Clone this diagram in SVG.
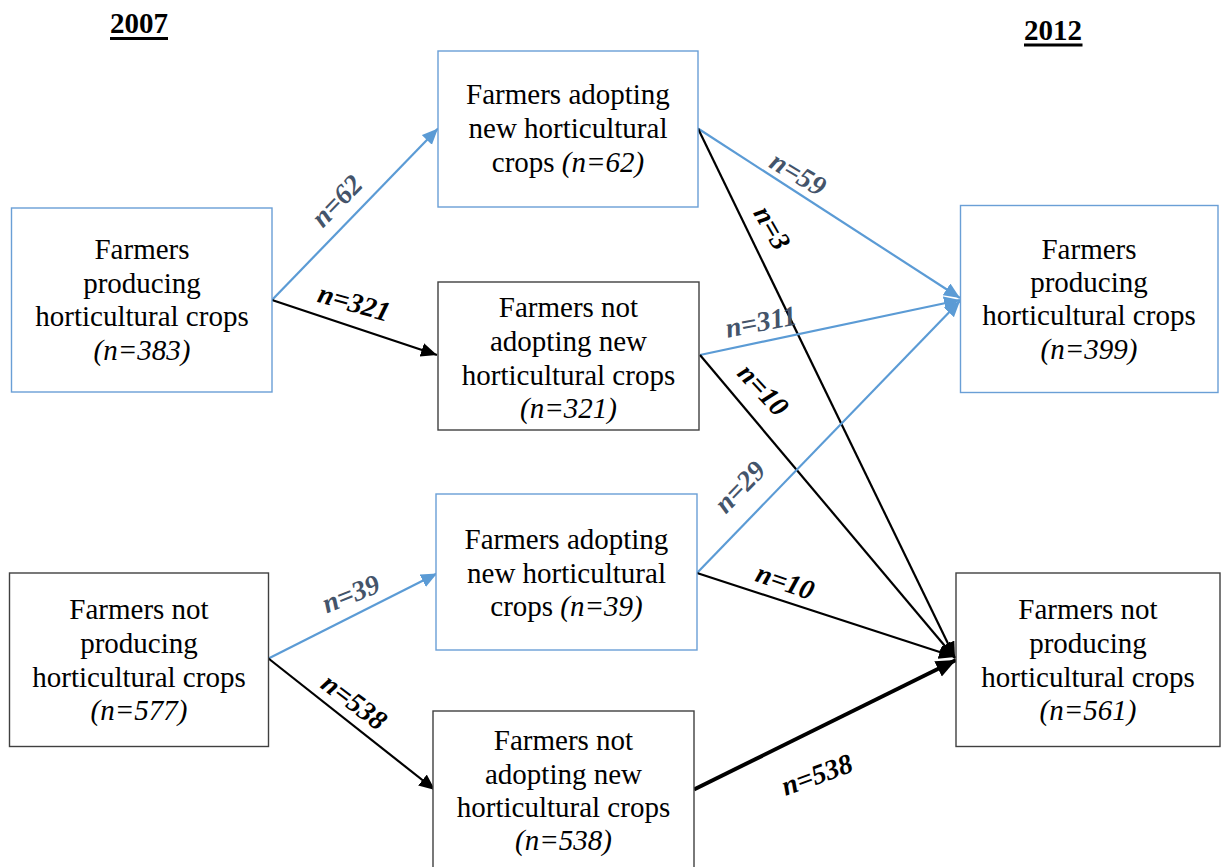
<svg xmlns="http://www.w3.org/2000/svg" width="1221" height="867" viewBox="0 0 1221 867">
<style>
.bx{fill:#fff;stroke-width:1.4}
.bl{stroke:#6A9FD6}
.bk{stroke:#404040}
.t{font-family:"Liberation Serif","Times New Roman",serif;font-size:29px;fill:#000;text-anchor:middle}
.i{font-style:italic}
.hd{font-family:"Liberation Serif","Times New Roman",serif;font-size:29px;font-weight:bold;fill:#000}
.lb{font-family:"Liberation Serif","Times New Roman",serif;font-size:28px;font-weight:bold;font-style:italic;text-anchor:middle}
.lbb{fill:#44546A}
.lbk{fill:#000}
.cb{stroke:#5B9BD5;stroke-width:2.2;fill:none}
.ck{stroke:#000;stroke-width:2.2;fill:none}
.ckt{stroke:#000;stroke-width:4;fill:none}
</style>
<defs>
<marker id="ab" markerUnits="userSpaceOnUse" markerWidth="17" markerHeight="15" refX="16" refY="7" orient="auto"><path d="M0,0 L16,7 L0,14 z" fill="#5B9BD5"/></marker>
<marker id="ak" markerUnits="userSpaceOnUse" markerWidth="17" markerHeight="15" refX="16" refY="7" orient="auto"><path d="M0,0 L16,7 L0,14 z" fill="#000"/></marker>
<marker id="akt" markerUnits="userSpaceOnUse" markerWidth="22" markerHeight="18" refX="20" refY="8.5" orient="auto"><path d="M0,0 L20,8.5 L0,17 z" fill="#000"/></marker>
</defs>
<g id="headers">
<text class="hd" x="110" y="33">2007</text>
<rect x="110" y="37" width="58" height="3" fill="#000"/>
<text class="hd" x="1024" y="40">2012</text>
<rect x="1024" y="43.5" width="58.5" height="3" fill="#000"/>
</g>
<g id="connectors">
<line class="cb" x1="272" y1="300" x2="438" y2="128.5" marker-end="url(#ab)"/>
<line class="ck" x1="272" y1="300" x2="437" y2="355" marker-end="url(#ak)"/>
<line class="cb" x1="698" y1="128.5" x2="960" y2="298" marker-end="url(#ab)"/>
<line class="ck" x1="698" y1="128.5" x2="955" y2="658" marker-end="url(#ak)"/>
<line class="cb" x1="700" y1="355" x2="960" y2="300" marker-end="url(#ab)"/>
<line class="ck" x1="700" y1="355" x2="955" y2="658" marker-end="url(#ak)"/>
<line class="cb" x1="697" y1="573" x2="960" y2="301" marker-end="url(#ab)"/>
<line class="ck" x1="697" y1="573" x2="955" y2="657" marker-end="url(#ak)"/>
<line class="ckt" x1="694" y1="789.5" x2="956" y2="660" marker-end="url(#akt)"/>
<line class="cb" x1="268.5" y1="658.5" x2="437" y2="573.5" marker-end="url(#ab)"/>
<line class="ck" x1="268.5" y1="658.5" x2="435" y2="790" marker-end="url(#ak)"/>
</g>
<g id="labels">
<text class="lb lbb" transform="translate(337,201) rotate(-46)" dy="9">n=62</text>
<text class="lb lbk" transform="translate(354,303) rotate(16)" dy="9">n=321</text>
<text class="lb lbb" transform="translate(798,174) rotate(31)" dy="9">n=59</text>
<text class="lb lbk" transform="translate(772,228) rotate(60)" dy="9">n=3</text>
<text class="lb lbb" transform="translate(761,322) rotate(-11)" dy="9">n=311</text>
<text class="lb lbk" transform="translate(763,390) rotate(47)" dy="9">n=10</text>
<text class="lb lbb" transform="translate(740,487) rotate(-46)" dy="9">n=29</text>
<text class="lb lbk" transform="translate(785,582) rotate(19)" dy="9">n=10</text>
<text class="lb lbk" transform="translate(817,775) rotate(-20)" dy="9">n=538</text>
<text class="lb lbb" transform="translate(351,594) rotate(-22)" dy="9">n=39</text>
<text class="lb lbk" transform="translate(354,702) rotate(37)" dy="9">n=538</text>
</g>
<g id="nodeA">
<rect class="bx bl" x="11.5" y="208" width="260.5" height="184"/>
<text class="t" x="142" y="259">Farmers</text>
<text class="t" x="142" y="292.5">producing</text>
<text class="t" x="142" y="326">horticultural crops</text>
<text class="t i" x="142" y="359.5">(n=383)</text>
</g>
<g id="nodeB">
<rect class="bx bl" x="438" y="51" width="260" height="156"/>
<text class="t" x="568" y="104">Farmers adopting</text>
<text class="t" x="568" y="138">new horticultural</text>
<text class="t" x="568" y="171.5">crops <tspan class="i">(n=62)</tspan></text>
</g>
<g id="nodeC">
<rect class="bx bk" x="438" y="282" width="261" height="148"/>
<text class="t" x="568.5" y="317">Farmers not</text>
<text class="t" x="568.5" y="351">adopting new</text>
<text class="t" x="568.5" y="385">horticultural crops</text>
<text class="t i" x="568.5" y="418">(n=321)</text>
</g>
<g id="nodeD">
<rect class="bx bl" x="436" y="494" width="261" height="156"/>
<text class="t" x="566.5" y="549">Farmers adopting</text>
<text class="t" x="566.5" y="583">new horticultural</text>
<text class="t" x="566.5" y="616">crops <tspan class="i">(n=39)</tspan></text>
</g>
<g id="nodeE">
<rect class="bx bk" x="433" y="711" width="261" height="160"/>
<text class="t" x="563.5" y="750">Farmers not</text>
<text class="t" x="563.5" y="784">adopting new</text>
<text class="t" x="563.5" y="817">horticultural crops</text>
<text class="t i" x="563.5" y="850">(n=538)</text>
</g>
<g id="nodeF">
<rect class="bx bk" x="9.5" y="573" width="259" height="173.5"/>
<text class="t" x="139" y="618.5">Farmers not</text>
<text class="t" x="139" y="652.5">producing</text>
<text class="t" x="139" y="686.5">horticultural crops</text>
<text class="t i" x="139" y="720">(n=577)</text>
</g>
<g id="nodeG">
<rect class="bx bl" x="960.5" y="205.5" width="257.5" height="187"/>
<text class="t" x="1089" y="258.5">Farmers</text>
<text class="t" x="1089" y="292">producing</text>
<text class="t" x="1089" y="325">horticultural crops</text>
<text class="t i" x="1089" y="358.5">(n=399)</text>
</g>
<g id="nodeH">
<rect class="bx bk" x="956" y="573" width="264" height="173.5"/>
<text class="t" x="1088" y="618.5">Farmers not</text>
<text class="t" x="1088" y="652.5">producing</text>
<text class="t" x="1088" y="686.5">horticultural crops</text>
<text class="t i" x="1088" y="720">(n=561)</text>
</g>
</svg>
